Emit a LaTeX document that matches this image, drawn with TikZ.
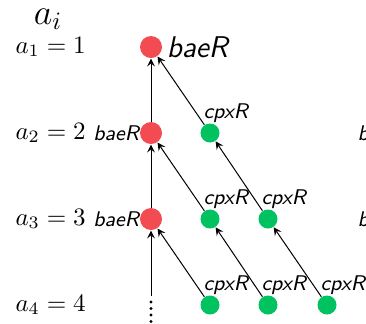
\documentclass[tikz,border=0pt]{standalone}
\usetikzlibrary{arrows,calc}
\definecolor{baered}{RGB}{242,76,82}
\definecolor{cpxgreen}{RGB}{0,194,96}

\begin{document}
\begin{tikzpicture}[x=0.4pt,y=-0.4pt,->,>=stealth,
  baenode/.style={circle,fill=baered,minimum size=8.8pt,inner sep=0pt},
  cpxnode/.style={circle,fill=cpxgreen,minimum size=7.6pt,inner sep=0pt},
  lbl/.style={font=\sffamily\slshape\fontsize{8.5pt}{10pt}\selectfont,inner sep=0pt}]
\useasboundingbox (0,0) rectangle (366,323);
%row labels
\node[anchor=base,inner sep=0pt] (ai) at (48,24) {\Large $a_i$};
\foreach \k/\y in {1/47,2/133,3/219,4/305}
  \node[anchor=west,inner sep=0pt] (a\k) at (15,\y) {$a_{\k} = \k$};
%red nodes
\node[baenode] (R1) at (151,47) {};
\node[baenode] (R2) at (151,133) {};
\node[baenode] (R3) at (151,219) {};
\node[lbl,font=\sffamily\slshape\large,anchor=west,xshift=1.5pt] (L1) at (R1.east) {baeR};
\node[lbl,anchor=east] (L2) at (R2.west) {baeR};
\node[lbl,anchor=east] (L3) at (R3.west) {baeR};
%green nodes
\foreach \n/\x/\y in {21/210/133,31/210/219,32/268/219,41/210/305,42/268/305,43/327/305}{
  \node[cpxnode] (G\n) at (\x,\y) {};
  \node[lbl,anchor=base west] (C\n) at ($(G\n)+(-7,-15)$) {cpxR};
}
%next diagram, cut off
\node[lbl,anchor=west] (B2) at (357,133) {baeR};
\node[lbl,anchor=west] (B3) at (357,219) {baeR};
%edges
\draw (R2) -- (R1);
\draw (R3) -- (R2);
\draw (G21) -- (R1);
\draw (G31) -- (R2);
\draw (G32) -- (G21);
\draw (G41) -- (R3);
\draw (G42) -- (G31);
\draw (G43) -- (G32);
\coordinate (D) at (151,296);
\coordinate (E) at (151,323);
\draw (D) -- (R3);
\draw[-,line width=1.3pt,line cap=round,dash pattern=on 0pt off 2.6pt] ($(D)+(0,6)$) -- (E);
\end{tikzpicture}
\end{document}
